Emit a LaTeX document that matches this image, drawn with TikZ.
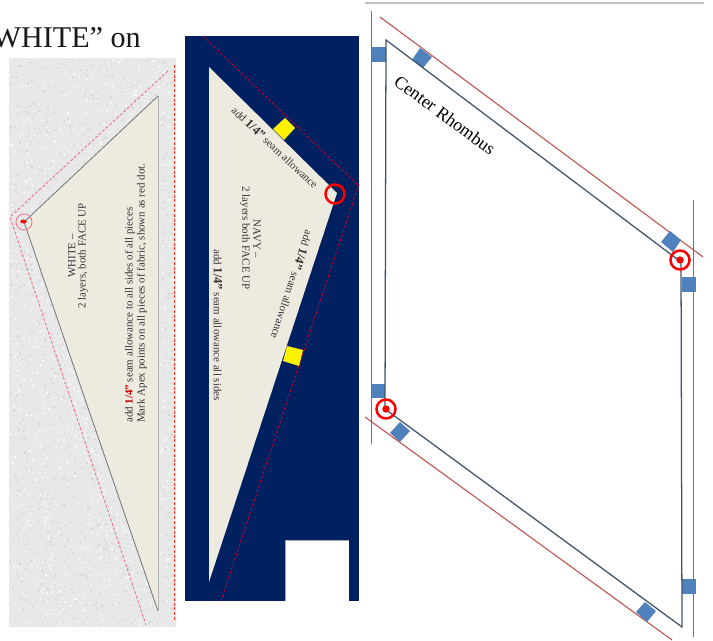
\documentclass[tikz,border=0pt]{standalone}
\usepackage{fontspec}
\setmainfont{Liberation Serif}
\definecolor{speck}{HTML}{E8E8E8}
\definecolor{cloth}{HTML}{EDEBE0}
\definecolor{navy}{HTML}{002060}
\definecolor{tab}{HTML}{4F81BD}
\definecolor{edge}{HTML}{44546A}
\definecolor{allow}{HTML}{C0504D}
\definecolor{pinkdash}{HTML}{E8708A}
\definecolor{navydash}{HTML}{C00030}
\tikzset{
  panellabel/.style={font=\fontsize{8.2pt}{9.5pt}\selectfont,text=black!80,inner sep=0pt,align=center},
  bigbold/.style={},
  seam/.style={dash pattern=on 2.2pt off 1.4pt,line width=0.65pt},
  tabmark/.style={fill=tab,draw=none},
  yellowmark/.style={fill=yellow,draw=none},
  apexring/.style={draw=red,line width=1.9pt,fill=none},
  apexdot/.style={fill=red,draw=none},
  rhomb/.style={draw=edge,line width=0.95pt},
  redline/.style={draw=allow,line width=0.8pt}
}
\newcommand{\qtrmark}{\textbf{\fontsize{9.4pt}{9.5pt}\selectfont 1/4"}}
\begin{document}
\begin{tikzpicture}[x=0.75pt,y=-0.75pt]
\useasboundingbox (0,0) rectangle (713,641);
\fill[white] (0,0) rectangle (713,641);
% heading fragment
\node[anchor=base east,inner sep=0pt,font=\fontsize{22.6pt}{24pt}\selectfont,text=black!90] (heading) at (141,48) {WHITE” on};
% white fabric panel
\fill[speck] (9,58) rectangle (176,627);
\pgfmathsetseed{4217}
\foreach \i in {1,...,3600}{
  \pgfmathsetmacro{\px}{9+165*rnd}
  \pgfmathsetmacro{\py}{58+567*rnd}
  \ifnum\i<1800
    \fill[black!3] (\px,\py) rectangle ++(1.5,1.5);
  \else
    \fill[black!15] (\px,\py) rectangle ++(1.5,1.5);
  \fi
}
\fill[cloth] (158,96) -- (24,222) -- (158,611) -- cycle;
\draw[black!55,line width=0.6pt] (158,96) -- (24,222) -- (158,611);
\draw[black!30,line width=0.5pt] (158,96) -- (158,611);
\draw[seam,draw=pinkdash] (168,71) -- (10,217) -- (146,625);
\draw[seam,draw=red!80!white,line width=0.7pt] (174.5,65) -- (174.5,620);
\draw[pinkdash,line width=0.6pt] (24,222) circle (8);
\fill[apexdot] (23.5,221.5) ellipse (3.2 and 2);
\node[panellabel,rotate=90] (whitea) at (72,256) {WHITE –};
\node[panellabel,rotate=90] (whiteb) at (83,256) {2 layers, both FACE UP};
\node[panellabel,rotate=90,anchor=west] (whitec) at (130,423) {add \textcolor{red!75!black}{\textbf{1/4"}} seam allowance to all sides of all pieces};
\node[panellabel,rotate=90,anchor=west] (whited) at (142,423) {Mark Apex points on all pieces of fabric, shown as red dot.};
% navy fabric panel
\fill[navy] (185,36) rectangle (359,601);
\fill[white] (285,540) rectangle (349,601);
\draw[black!35,line width=0.5pt] (285,601) -- (285,540) -- (349,540);
\fill[cloth] (209,67) -- (337,193) -- (209,582) -- cycle;
\draw[seam,draw=navydash] (203,36) -- (359,186);
\draw[seam,draw=navydash] (359,184) -- (221,601);
\fill[yellowmark] (285,118) -- (295,128) -- (284,140) -- (273,129) -- cycle;
\fill[yellowmark] (287,346) -- (303,350) -- (299,366) -- (283,361) -- cycle;
\draw[apexring] (335,194) circle (9.5);
\node[panellabel,rotate=-90] (navya) at (257,239) {NAVY –};
\node[panellabel,rotate=-90] (navyb) at (245,238) {2 layers both FACE UP};
\node[panellabel,rotate=-90] (navyc) at (218,325) {add \qtrmark{} seam allowance all sides};
\node[panellabel,rotate=-43] (navyd) at (275,147.5) {add \qtrmark{} seam allowance};
\node[panellabel,rotate=-108] (navye) at (292,285) {add \qtrmark{} seam allowance};
% center rhombus
\draw[black!25,line width=0.8pt] (365,3) -- (704,3);
\draw[redline] (371.5,11) -- (371.5,444);
\draw[redline] (380,17) -- (703,257);
\draw[redline] (693.5,200) -- (693.5,637);
\draw[redline] (365,417) -- (672,640);
\fill[tabmark] (372,47) rectangle (386,62);
\fill[tabmark] (372,384) rectangle (385,398);
\fill[tabmark] (682,277) rectangle (696,292);
\fill[tabmark] (682,579) rectangle (696,594);
\fill[tabmark] (420,48) -- (432,57) -- (423,68) -- (412,60) -- cycle;
\fill[tabmark] (670,231) -- (681,240) -- (673,252) -- (661,242) -- cycle;
\fill[tabmark] (400,422) -- (410,431) -- (400,442) -- (390,433) -- cycle;
\fill[tabmark] (645,602) -- (656,611) -- (647,622) -- (636,612) -- cycle;
\draw[rhomb] (386,40) -- (681,262) -- (682,627) -- (385,409) -- cycle;
\node[inner sep=0pt,rotate=-36.5,font=\fontsize{13.4pt}{15pt}\selectfont] (centre) at (445,115) {Center Rhombus};
\draw[apexring] (680,260) circle (9.5);
\fill[apexdot] (680,260) circle (3.7);
\draw[apexring] (386,409) circle (9.5);
\fill[apexdot] (386,409) circle (3.7);
\end{tikzpicture}
\end{document}
